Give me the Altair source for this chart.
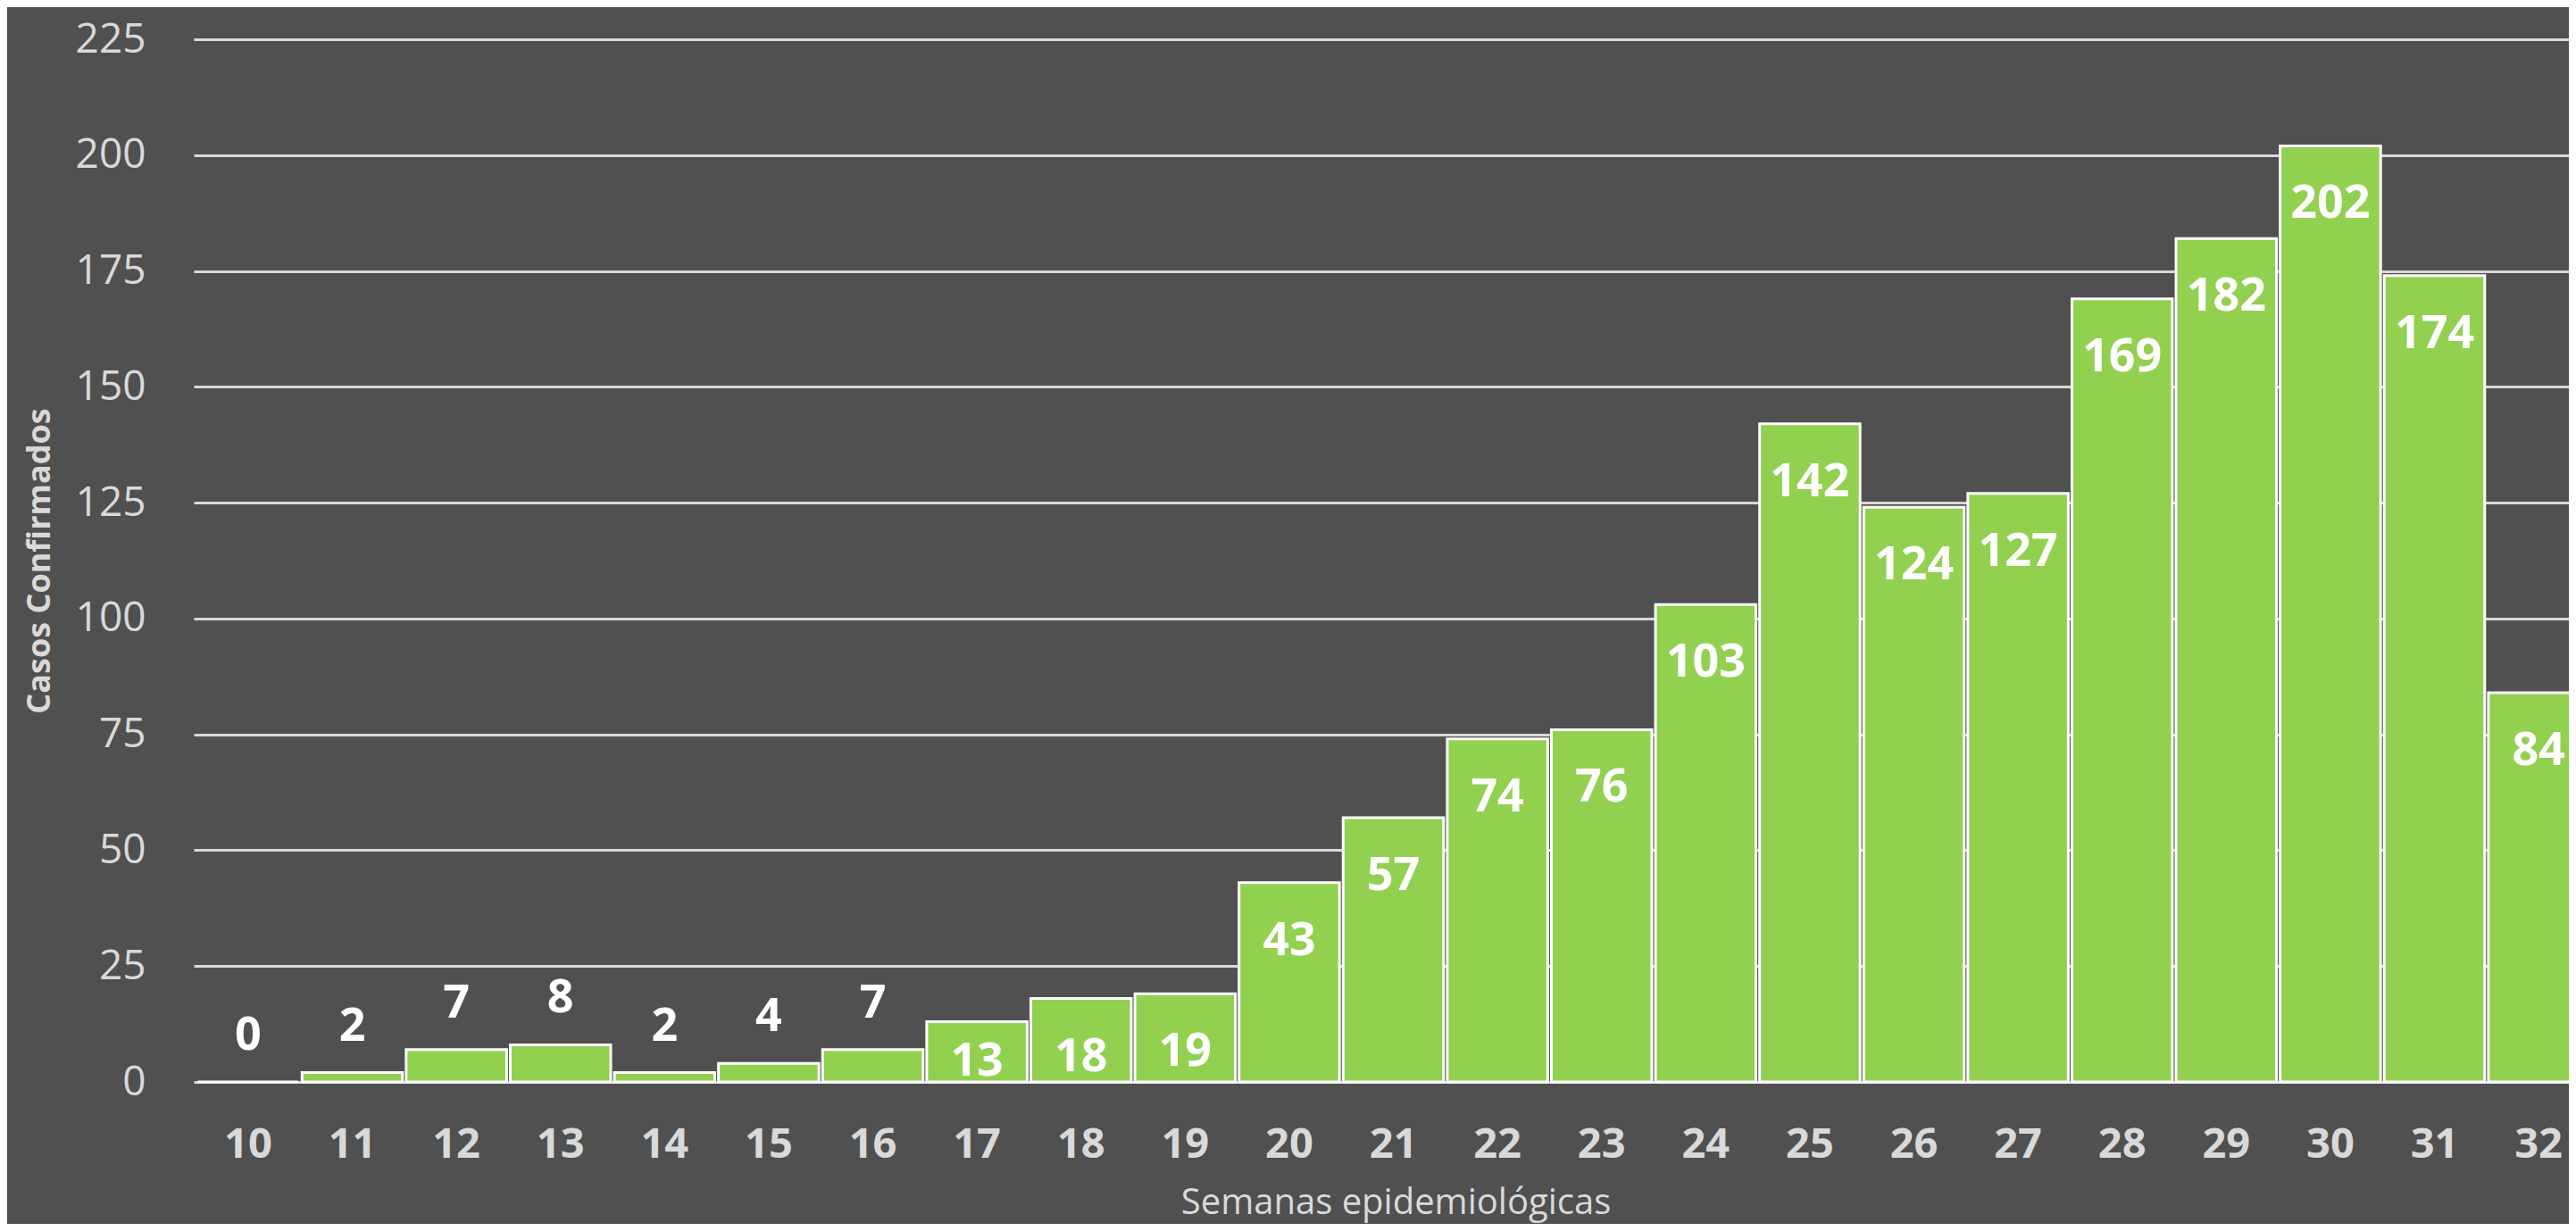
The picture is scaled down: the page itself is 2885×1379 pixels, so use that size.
import altair as alt
import pandas as pd

weeks = [str(w) for w in range(10, 33)]
cases = [0, 2, 7, 8, 2, 4, 7, 13, 18, 19, 43, 57, 74, 76, 103, 142, 124, 127, 169, 182, 202, 174, 84]
y_ticks = [0, 25, 50, 75, 100, 125, 150, 175, 200, 225]

df = pd.DataFrame({"semana": weeks, "casos": cases})

W = 2660
H = 1168
step = 116.6
p_in, p_out = 0.035, 0.04
range_len = step * (len(weeks) - p_in + 2 * p_out)

FONT = "Open Sans"
GRAY = "#d9d9d9"

xenc = alt.X("semana:N", sort=weeks,
             scale=alt.Scale(range=[0, range_len], paddingInner=p_in, paddingOuter=p_out),
             title="Semanas epidemiológicas")
yscale = alt.Scale(domain=[0, 225], nice=False, zero=True)

bars = alt.Chart(df).mark_bar(color="#92D050", stroke="white", strokeWidth=3).encode(
    x=xenc,
    y=alt.Y("casos:Q", scale=yscale, title="Casos Confirmados",
            axis=alt.Axis(values=y_ticks)),
)

big = alt.Chart(df).transform_filter("datum.casos >= 10").transform_calculate(
    ly="max(datum.casos, 17)"
).mark_text(baseline="alphabetic", dy=81, font=FONT, fontSize=52, fontWeight="bold",
            color="white").encode(
    x=xenc,
    y=alt.Y("ly:Q", scale=yscale, title="Casos Confirmados"),
    text="casos:Q",
)

small = alt.Chart(df).transform_filter("datum.casos < 10").mark_text(
    baseline="alphabetic", dy=-36, font=FONT, fontSize=52, fontWeight="bold", color="white"
).encode(
    x=xenc,
    y=alt.Y("casos:Q", scale=yscale, title="Casos Confirmados"),
    text="casos:Q",
)

chart = alt.layer(bars, big, small).properties(
    width=W, height=H, background="#505050",
    padding={"left": 209, "top": 36, "right": 0, "bottom": 159},
    autosize=alt.AutoSizeParams(type="none"),
).configure_view(stroke=None).configure_axisY(
    grid=True, gridColor=GRAY, gridWidth=3, domain=False, ticks=False,
    labelFont=FONT, labelFontSize=46, labelColor=GRAY, labelPadding=54,
    titleFont=FONT, titleFontSize=36, titleFontWeight="bold", titleColor=GRAY,
    titleAngle=270, titleX=-162, titleY=584, titleBaseline="alphabetic", titleAlign="center",
).configure_axisX(
    grid=False, domain=False, ticks=False, labelAngle=0,
    labelFont=FONT, labelFontSize=47, labelFontWeight="bold", labelColor=GRAY,
    labelBaseline="alphabetic", labelPadding=84,
    titleFont=FONT, titleFontSize=40, titleFontWeight="normal", titleColor=GRAY,
    titleX=1346, titleY=147, titleBaseline="alphabetic", titleAlign="center",
)

chart.save("out.html", embed_options={"renderer": "svg", "actions": False})
